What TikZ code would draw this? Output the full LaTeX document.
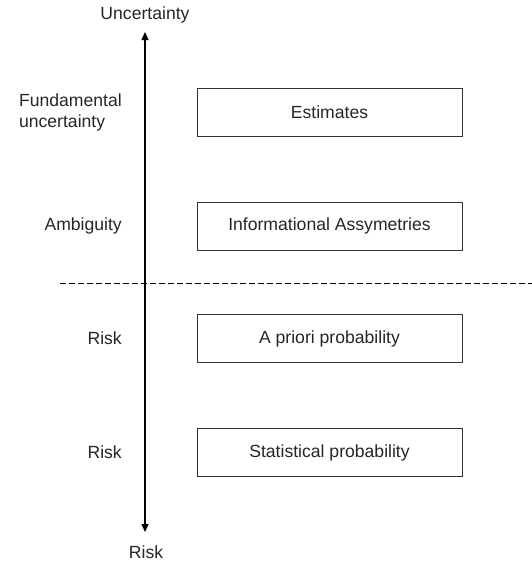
\documentclass[tikz,border=0pt]{standalone}
\usepackage{fontspec}
\setmainfont{Liberation Sans}
\usetikzlibrary{arrows.meta}
\begin{document}
\begin{tikzpicture}[x=1pt,y=-1pt,
  every node/.style={font=\fontsize{17.6}{21}\selectfont, text=black!85},
  levelbox/.style={draw=black!80, line width=1pt, minimum width=265pt, minimum height=48pt, inner sep=0pt},
  sidelabel/.style={anchor=east, align=left, inner sep=0pt},
  axis/.style={line width=1.3pt, -{Triangle[length=8pt,width=7pt]}},
  divider/.style={line width=1pt, dash pattern=on 5.5pt off 3.5pt}
]
\useasboundingbox (0,0) rectangle (532,562);

% scale end points
\coordinate (top) at (145,32);
\coordinate (bottom) at (145,532);
\coordinate (origin) at (145,282);
\node (unc) at (145,15) {Uncertainty};
\node (risk) at (146,552) {Risk};
\draw[axis] (origin) -- (top);
\draw[axis] (origin) -- (bottom);

% dashed boundary between uncertainty and risk
\coordinate (dl) at (60,283);
\coordinate (dr) at (532,283);
\draw[divider] (dl) -- (dr);

% boxes
\node[levelbox] (est) at (329.5,112) {Estimates};
\node[levelbox] (info) at (329.5,226) {Informational Assymetries};
\node[levelbox] (apriori) at (329.5,338.5) {A priori probability};
\node[levelbox] (stat) at (329.5,452.5) {Statistical probability};

% side labels
\node[sidelabel] (fund) at (122,112) {Fundamental\\uncertainty};
\node[sidelabel] (amb) at (122,226) {Ambiguity};
\node[sidelabel] (r1) at (122,338.5) {Risk};
\node[sidelabel] (r2) at (122,452.5) {Risk};
\end{tikzpicture}
\end{document}
